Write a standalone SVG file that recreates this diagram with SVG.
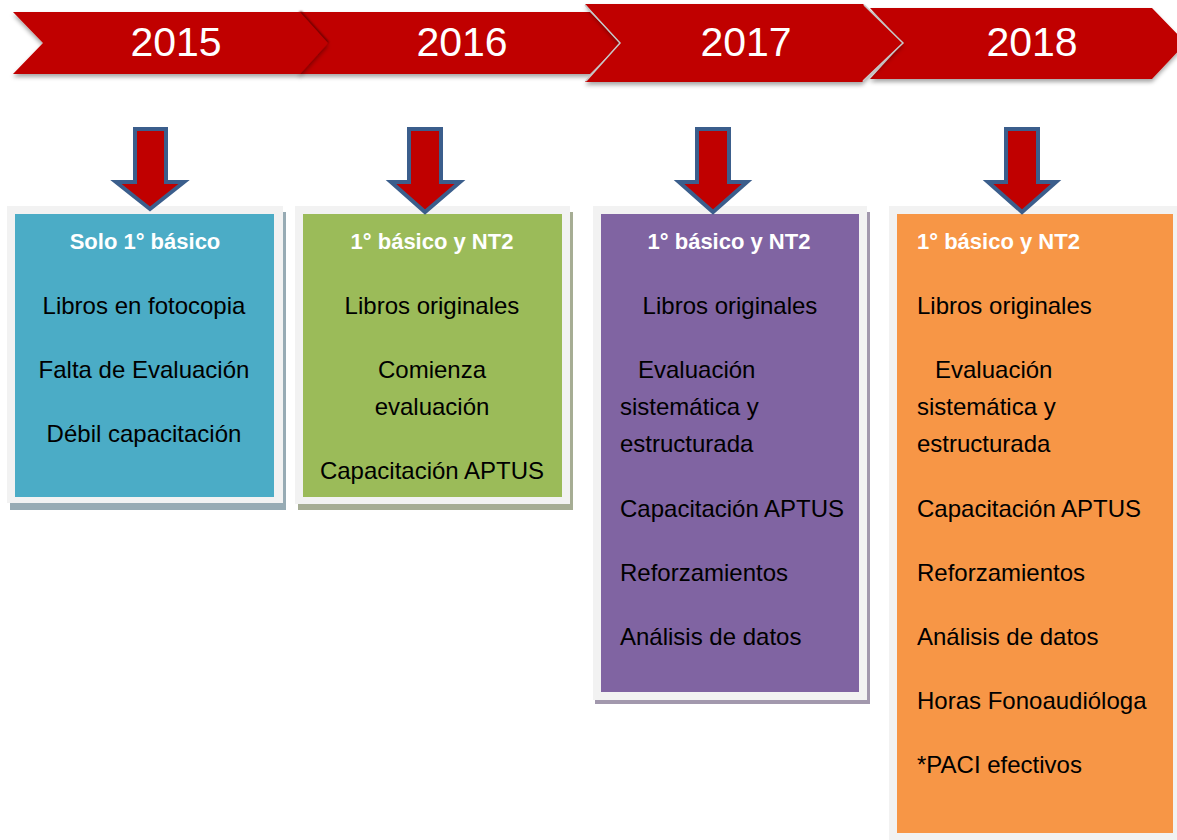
<svg xmlns="http://www.w3.org/2000/svg" width="1177" height="840" viewBox="0 0 1177 840">
<style>
.yr{font-family:"Liberation Sans",Arial,sans-serif;font-size:41px;fill:#ffffff;text-anchor:middle}
.ribbon{fill:#C00000}
.frame{fill:#F2F2F2}
.hd{font-family:"Liberation Sans",Arial,sans-serif;font-size:22px;font-weight:bold;fill:#ffffff}
.tx{font-family:"Liberation Sans",Arial,sans-serif;font-size:24px;fill:#000000}
.c{text-anchor:middle}
.arrow{fill:#C00000;stroke:#3B5E8C;stroke-width:4;stroke-linejoin:miter}
</style>
<defs>
<filter id="sh" x="-5%" y="-20%" width="110%" height="160%">
<feDropShadow dx="0" dy="3" stdDeviation="2" flood-color="#000" flood-opacity="0.35"/>
</filter>
<filter id="blur1"><feGaussianBlur stdDeviation="1.2"/></filter>
</defs>

<g id="ribbon-2018">
<polygon class="ribbon" filter="url(#sh)" points="870,8 1152,8 1186,43 1152,79 870,79 903,43"/>
<text class="yr" x="1032" y="56">2018</text>
</g>
<g id="ribbon-2016">
<polygon class="ribbon" filter="url(#sh)" points="298,12 590,12 621,43 590,74 298,74 320,43"/>
<text class="yr" x="462" y="56">2016</text>
</g>
<g id="ribbon-2015">
<polyline points="300,12 328,43" fill="none" stroke="#6e0000" stroke-width="3" filter="url(#blur1)"/>
<polygon class="ribbon" filter="url(#sh)" points="13,12 300,12 328,43 300,74 13,74 43,43"/>
<text class="yr" x="176" y="56">2015</text>
</g>
<g id="ribbon-2017">
<polygon class="ribbon" filter="url(#sh)" points="585,4 863,4 903,43 862,82 585,82 620,43"/>
<polyline points="585,5 620,43 586,81" fill="none" stroke="#c8c8c8" stroke-width="1.5"/>
<polyline points="864,5 903,43 863,81" fill="none" stroke="#c8c8c8" stroke-width="1.5"/>
<text class="yr" x="746" y="56">2017</text>
</g>

<g id="box-2015">
<rect x="10" y="212" width="276" height="298" fill="#97abb4"/>
<rect class="frame" x="7" y="206" width="276" height="297"/>
<rect x="15" y="214" width="259" height="283" fill="#4BACC6"/>
<text class="hd c" x="145" y="249">Solo 1° básico</text>
<text class="tx c" x="144" y="314">Libros en fotocopia</text>
<text class="tx c" x="144" y="378">Falta de Evaluación</text>
<text class="tx c" x="144" y="442">Débil capacitación</text>
</g>

<g id="box-2016">
<rect x="298" y="212" width="275" height="298" fill="#a6ad94"/>
<rect class="frame" x="295" y="206" width="275" height="298"/>
<rect x="303" y="214" width="259" height="283" fill="#9BBB59"/>
<text class="hd c" x="432" y="249">1° básico y NT2</text>
<text class="tx c" x="432" y="314">Libros originales</text>
<text class="tx c" x="432" y="378">Comienza</text>
<text class="tx c" x="432" y="415">evaluación</text>
<text class="tx c" x="432" y="479">Capacitación APTUS</text>
</g>

<g id="box-2017">
<rect x="595" y="212" width="275" height="492" fill="#a298ad"/>
<rect class="frame" x="593" y="206" width="274" height="494"/>
<rect x="601" y="214" width="258" height="478" fill="#8064A2"/>
<text class="hd c" x="729" y="249">1° básico y NT2</text>
<text class="tx c" x="730" y="314">Libros originales</text>
<text class="tx" x="638" y="378">Evaluación</text>
<text class="tx" x="620" y="415">sistemática y</text>
<text class="tx" x="620" y="452">estructurada</text>
<text class="tx" x="620" y="517">Capacitación APTUS</text>
<text class="tx" x="620" y="581">Reforzamientos</text>
<text class="tx" x="620" y="645">Análisis de datos</text>
</g>

<g id="box-2018">
<rect class="frame" x="889" y="206" width="288" height="634"/>
<rect x="897" y="214" width="276" height="619" fill="#F79646"/>
<text class="hd" x="917" y="249">1° básico y NT2</text>
<text class="tx" x="917" y="314">Libros originales</text>
<text class="tx" x="935" y="378">Evaluación</text>
<text class="tx" x="917" y="415">sistemática y</text>
<text class="tx" x="917" y="452">estructurada</text>
<text class="tx" x="917" y="517">Capacitación APTUS</text>
<text class="tx" x="917" y="581">Reforzamientos</text>
<text class="tx" x="917" y="645">Análisis de datos</text>
<text class="tx" x="917" y="709">Horas Fonoaudióloga</text>
<text class="tx" x="917" y="773">*PACI efectivos</text>
</g>

<g id="connectors">
<polygon class="arrow" points="135,129 166,129 166,182 184,182 150,209 116,182 135,182"/>
<polygon class="arrow" points="409,129 441,129 441,182 460,182 425,212 391,182 409,182"/>
<polygon class="arrow" points="697,129 729,129 729,182 747,182 713,212 679,182 697,182"/>
<polygon class="arrow" points="1006,129 1038,129 1038,182 1056,182 1022,212 988,182 1006,182"/>
</g>
</svg>
